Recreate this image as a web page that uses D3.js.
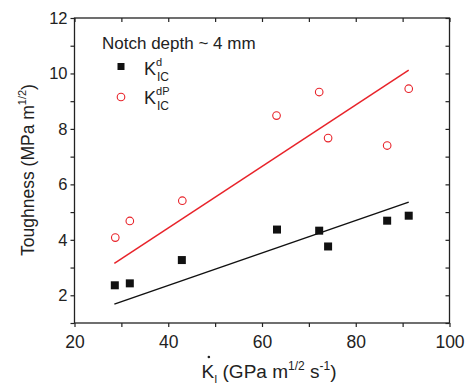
<!DOCTYPE html>
<html lang="en">
<head>
<meta charset="UTF-8">
<title>Toughness vs loading rate</title>
<script src="https://cdnjs.cloudflare.com/ajax/libs/d3/7.8.5/d3.min.js"></script>
<style>
  body { margin: 0; background: #fff; }
  text { font-family: "Liberation Sans", Arial, sans-serif; fill: #222; }
</style>
</head>
<body>
<svg width="468" height="385"></svg>
<script>
// data
var rateD = [28.6, 31.8, 42.9, 63.2, 72.2, 74.1, 86.7, 91.3]
var kD = [2.36, 2.43, 3.27, 4.37, 4.33, 3.76, 4.69, 4.87]
var rateDP = [28.7, 31.8, 43.0, 63.1, 72.2, 74.1, 86.7, 91.3]
var kDP = [4.08, 4.68, 5.41, 8.48, 9.33, 7.67, 7.40, 9.45]
// linear fit end points
var fitX = [28.5, 91.3]
var fitD = [1.68, 5.36]
var fitDP = [3.15, 10.12]

var xTicks = [20, 40, 60, 80, 100]
var yTicks = [2, 4, 6, 8, 10, 12]

var svg = d3.select("svg")
var marge = {left: 74.5, right: 449.5, top: 18, bottom: 323}

var x = d3.scaleLinear().domain([20, 100]).range([marge.left, marge.right])
var y = d3.scaleLinear().domain([1, 12]).range([marge.bottom, marge.top])

// frame
svg.append("rect")
    .attr("x", marge.left).attr("y", marge.top)
    .attr("width", marge.right - marge.left).attr("height", marge.bottom - marge.top)
    .attr("fill", "none").attr("stroke", "#222").attr("stroke-width", 1.3)

// axes
function styleAxis(g) {
    g.select(".domain").remove()
    g.selectAll("line").attr("stroke", "#222").attr("stroke-width", 1.2)
    g.selectAll("text").attr("fill", "#222")
}
svg.append("g").attr("transform", `translate(0,${marge.bottom})`)
    .call(d3.axisBottom(x).tickValues(d3.range(20, 101, 10)).tickSize(4)
        .tickFormat(d => xTicks.includes(d) ? d : ""))
    .call(styleAxis)
    .selectAll("text").attr("dy", "1.0em").style("font-size", "17.5px")
svg.append("g").attr("transform", `translate(${marge.left},0)`)
    .call(d3.axisLeft(y).tickValues(d3.range(1, 13)).tickSize(4)
        .tickFormat(d => yTicks.includes(d) ? d : ""))
    .call(styleAxis)
    .selectAll("text").style("font-size", "16.5px")
svg.append("g").attr("transform", `translate(0,${marge.top})`)
    .call(d3.axisBottom(x).tickValues(d3.range(20, 101, 10)).tickSize(4).tickFormat(""))
    .call(styleAxis)
svg.append("g").attr("transform", `translate(${marge.right},0)`)
    .call(d3.axisLeft(y).tickValues(d3.range(1, 13)).tickSize(4).tickFormat(""))
    .call(styleAxis)

// fit lines
var line = d3.line().x(d => x(d[0])).y(d => y(d[1]))
svg.append("path").attr("d", line(fitX.map((v, i) => [v, fitD[i]])))
    .attr("fill", "none").attr("stroke", "#111").attr("stroke-width", 1.5)
svg.append("path").attr("d", line(fitX.map((v, i) => [v, fitDP[i]])))
    .attr("fill", "none").attr("stroke", "#e8232a").attr("stroke-width", 1.5)

// points
svg.append("g").selectAll("rect").data(rateD).enter().append("rect")
    .attr("x", (d, i) => x(d) - 4).attr("y", (d, i) => y(kD[i]) - 4)
    .attr("width", 8).attr("height", 8).attr("fill", "#111")
svg.append("g").selectAll("circle").data(rateDP).enter().append("circle")
    .attr("cx", (d, i) => x(d)).attr("cy", (d, i) => y(kDP[i]))
    .attr("r", 3.8).attr("fill", "none").attr("stroke", "#e8232a").attr("stroke-width", 1.1)

// legend
svg.append("text").attr("x", 102).attr("y", 49).style("font-size", "17px").text("Notch depth ~ 4 mm")
svg.append("rect").attr("x", 117.5).attr("y", 63).attr("width", 7).attr("height", 7).attr("fill", "#111")
svg.append("circle").attr("cx", 121).attr("cy", 97).attr("r", 3.8)
    .attr("fill", "none").attr("stroke", "#e8232a").attr("stroke-width", 1.1)
function kLabel(yy, sup) {
    var t = svg.append("text").attr("x", 144).attr("y", yy).style("font-size", "18px")
    t.append("tspan").text("K")
    t.append("tspan").attr("dx", 0).attr("dy", -9).style("font-size", "11px").text(sup)
    svg.append("text").attr("x", 157).attr("y", yy + 6).style("font-size", "12px").text("IC")
}
kLabel(75, "d")
kLabel(104, "dP")

// axis titles
var xt = svg.append("text").attr("x", 269).attr("y", 378).attr("text-anchor", "middle").style("font-size", "19px")
var kk = xt.append("tspan").text("K")
xt.append("tspan").attr("dy", 5).style("font-size", "11px").text("I")
xt.append("tspan").attr("dy", -5).text(" (GPa m")
xt.append("tspan").attr("dy", -8).style("font-size", "12px").text("1/2")
xt.append("tspan").attr("dy", 8).text(" s")
xt.append("tspan").attr("dy", -8).style("font-size", "12px").text("-1")
xt.append("tspan").attr("dy", 8).text(")")
var kb = kk.node().getExtentOfChar(0)
svg.append("circle").attr("cx", kb.x + kb.width / 2 + 1).attr("cy", 357).attr("r", 1.3).attr("fill", "#222")

var yt = svg.append("text").attr("transform", "translate(34,170) rotate(-90)")
    .attr("text-anchor", "middle").style("font-size", "17.5px")
yt.append("tspan").text("Toughness (MPa m")
yt.append("tspan").attr("dy", -8).style("font-size", "11px").text("1/2")
yt.append("tspan").attr("dy", 8).text(")")
</script>
</body>
</html>
